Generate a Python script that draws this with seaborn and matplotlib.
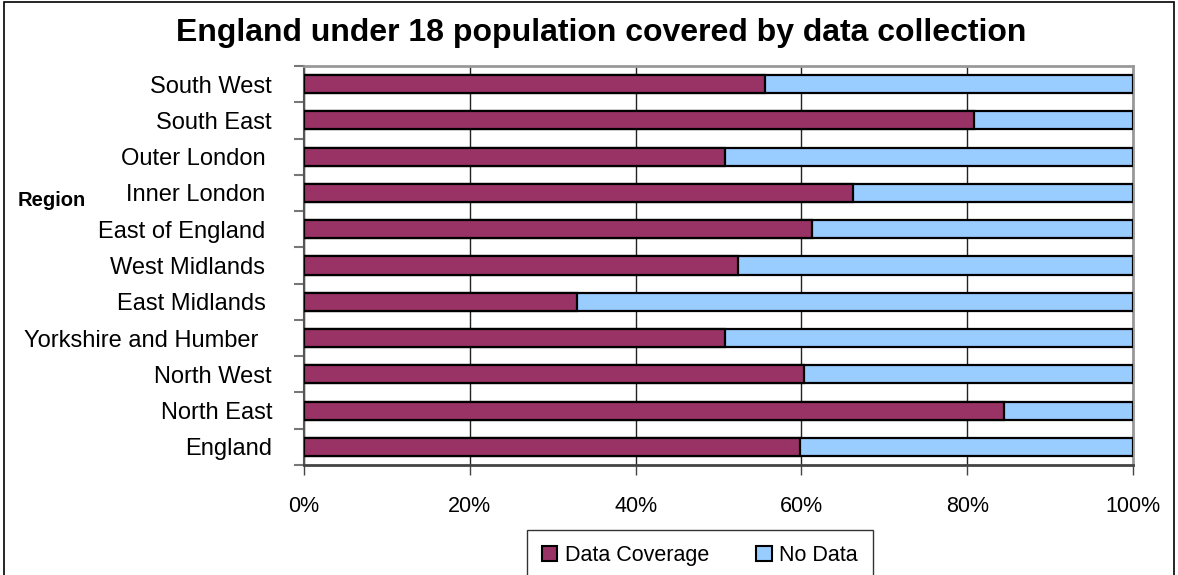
import pandas as pd
import matplotlib.pyplot as plt
import matplotlib.ticker as mticker
from matplotlib.patches import Patch, Rectangle
import seaborn as sns

sns.set_style("white")
plt.rcParams['font.family'] = ['Liberation Sans', 'DejaVu Sans']
plt.rcParams['text.color'] = 'black'
plt.rcParams['xtick.color'] = 'black'
plt.rcParams['ytick.color'] = 'black'
plt.rcParams['axes.labelcolor'] = 'black'

# Values (share of under-18 population with data, %)
regions = ['South West', 'South East', 'Outer London ', 'Inner London ', 'East of England ',
           'West Midlands ', 'East Midlands ', 'Yorkshire and Humber  ', 'North West',
           'North East', 'England']
coverage = [55.6, 80.8, 50.8, 66.2, 61.3, 52.3, 32.9, 50.8, 60.3, 84.4, 59.8]
total = [100] * len(regions)

df = pd.DataFrame({'Region': regions, 'Data Coverage': coverage, 'Total': total})

col_cov = '#993366'
col_none = '#99CCFF'

fig = plt.figure(figsize=(11.78, 5.75), dpi=100)
ax = fig.add_axes([304 / 1178, 1 - 465 / 575, (1133 - 304) / 1178, (465 - 66) / 575])

# full-length "No Data" bar, then coverage drawn on top
sns.barplot(data=df, x='Total', y='Region', orient='h', color=col_none, saturation=1,
            edgecolor='black', linewidth=1.6, width=0.5, ax=ax, zorder=3)
sns.barplot(data=df, x='Data Coverage', y='Region', orient='h', color=col_cov, saturation=1,
            edgecolor='black', linewidth=1.6, width=0.5, ax=ax, zorder=4)

ax.set_xlim(0, 100)
ax.set_ylim(len(regions) - 0.5, -0.5)
ax.xaxis.set_major_locator(mticker.MultipleLocator(20))
ax.xaxis.set_major_formatter(mticker.FuncFormatter(lambda v, p: f"{v:.0f}%"))

ax.grid(axis='x', color='#222222', linewidth=1.0, zorder=0)
ax.grid(axis='y', visible=False)

ax.tick_params(axis='x', direction='out', length=7, width=1, color='#444444',
               pad=15, labelsize=15.5, bottom=True)
ax.tick_params(axis='y', which='major', length=0, pad=23, labelsize=17)
ax.set_yticks([i + 0.5 for i in range(-1, len(regions))], minor=True)
ax.tick_params(axis='y', which='minor', direction='out', length=7, width=1.5,
               color='#777777', left=True)

for s in ['top', 'right']:
    ax.spines[s].set_color('#999999')
    ax.spines[s].set_linewidth(2)
ax.spines['bottom'].set_color('#444444')
ax.spines['bottom'].set_linewidth(2)
ax.spines['left'].set_color('#555555')
ax.spines['left'].set_linewidth(1.5)

ax.set_xlabel('')
ax.set_ylabel('Region', rotation=0, fontsize=14.5, fontweight='bold', ha='left', va='center')
ax.yaxis.set_label_coords((18 - 304) / 829, (465 - 200) / 399)

fig.suptitle("England under 18 population covered by data collection",
             x=0.51, y=1 - 33 / 575, va='center', fontsize=23, fontweight='bold')

handles = [Patch(facecolor=col_cov, edgecolor='black', linewidth=1.5, label='Data Coverage'),
           Patch(facecolor=col_none, edgecolor='black', linewidth=1.5, label='No Data')]
leg = fig.legend(handles=handles, loc='upper center', bbox_to_anchor=(700 / 1178, 1 - 530 / 575),
                 ncol=2, fontsize=15.5, frameon=True, fancybox=False, borderpad=0.7,
                 borderaxespad=0, handlelength=0.7, handleheight=0.7, handletextpad=0.35,
                 columnspacing=2.2)
leg.get_frame().set_edgecolor('black')
leg.get_frame().set_linewidth(1.0)

# outer chart border
fig.patches.append(Rectangle((0.003, -0.01), 0.994, 1.006, transform=fig.transFigure,
                             fill=False, edgecolor='black', linewidth=1.2))

fig.savefig('out.png', dpi=100)
